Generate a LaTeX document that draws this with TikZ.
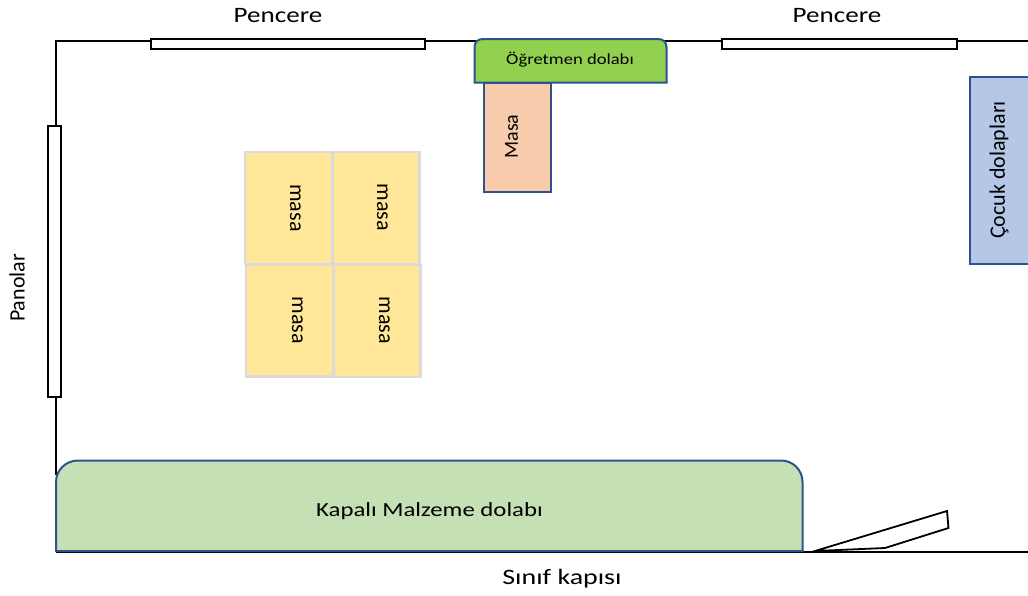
\documentclass[tikz,border=0pt]{standalone}
\usepackage{fontspec}
\setmainfont{Carlito}
\definecolor{wallblack}{HTML}{000000}
\definecolor{edgeblue}{HTML}{2F528F}
\definecolor{cabgreen}{HTML}{C5E0B4}
\definecolor{tgreen}{HTML}{92D050}
\definecolor{masaorange}{HTML}{F8CBAD}
\definecolor{masayellow}{HTML}{FFE699}
\definecolor{masaedge}{HTML}{DADADA}
\definecolor{lockerblue}{HTML}{B4C7E7}
\tikzset{
  x=1pt,y=-1pt,
  wall/.style={draw=wallblack,line width=2pt},
  winbox/.style={draw=wallblack,line width=2pt,fill=white},
  furn/.style={draw=edgeblue,line width=2pt},
  yellowbox/.style={draw=masaedge,line width=2.2pt,fill=masayellow,outer sep=0pt,inner sep=0pt,anchor=north west,minimum width=87pt,minimum height=112pt},
  lbl/.style={inner sep=0pt,text=black},
  vlbl/.style={inner sep=0pt,rotate=-90,text=black,font=\fontsize{22}{26}\selectfont},
  ulbl/.style={inner sep=0pt,rotate=90,text=black,font=\fontsize{22}{26}\selectfont},
}
\begin{document}
\begin{tikzpicture}
\useasboundingbox (0,0) rectangle (1028,595);
% walls
\draw[wall] (56,475) -- (56,40.5) -- (1028,40.5);
\draw[wall] (56,551.5) -- (1028,551.5);
% windows and boards
\draw[winbox] (150.5,38.5) rectangle (424.5,49);
\draw[winbox] (722,38.5) rectangle (957,49);
\draw[winbox] (47.5,125.5) rectangle (61,396.5);
% door
\draw[draw=wallblack,line width=1.8pt,fill=white,line join=miter]
  (815,551) -- (947,511) -- (948.5,528) -- (885,548) -- cycle;
% large cabinet
\draw[furn,fill=cabgreen] (56,551) -- (56,482) .. controls (56,470) and (66,460.5) .. (78,460.5)
  -- (781,460.5) .. controls (793,460.5) and (802.5,470) .. (802.5,482) -- (802.5,551) -- cycle;
\node[lbl] (cab) at (429.5,511) {\fontsize{20}{24}\selectfont\scalebox{1.24}[1]{Kapalı Malzeme dolabı}};
% teacher's desk and cabinet
\draw[furn,fill=masaorange] (484,82.5) rectangle (551,192);
\node[ulbl,font=\fontsize{20}{24}\selectfont] (desk) at (511.5,136.5) {Masa};
\draw[furn,fill=tgreen] (474.5,82.5) -- (474.5,47) .. controls (474.5,42) and (478,39) .. (483,39)
  -- (658,39) .. controls (663,39) and (666.5,42) .. (666.5,47) -- (666.5,82.5) -- cycle;
\node[lbl] (tc) at (570,59.5) {\fontsize{15.5}{18}\selectfont\scalebox{1.2}[1]{Öğretmen dolabı}};
% tables
\node[yellowbox] (m1) at (245,152) {};
\node[yellowbox] (m2) at (332.5,152) {};
\node[yellowbox] (m3) at (246,264.5) {};
\node[yellowbox] (m4) at (333.5,265) {};
\node[vlbl] at (295.5,208) {masa};
\node[vlbl] at (382.5,207.5) {masa};
\node[vlbl] at (297.5,320.5) {masa};
\node[vlbl] at (384.5,320.5) {masa};
% lockers
\draw[furn,fill=lockerblue] (1032,76.5) -- (970,76.5) -- (970,264) -- (1032,264);
\node[ulbl] (lock) at (999,170) {Çocuk dolapları};
% outside labels
\node[lbl] (w1) at (278,15.5) {\fontsize{22}{26}\selectfont\scalebox{1.23}[1]{Pencere}};
\node[lbl] (w2) at (837,15.5) {\fontsize{22}{26}\selectfont\scalebox{1.23}[1]{Pencere}};
\node[ulbl] (pan) at (17,288) {Panolar};
\node[lbl] (door) at (562,578.5) {\fontsize{22}{26}\selectfont\scalebox{1.27}[1]{Sınıf kapısı}};
\end{tikzpicture}
\end{document}
